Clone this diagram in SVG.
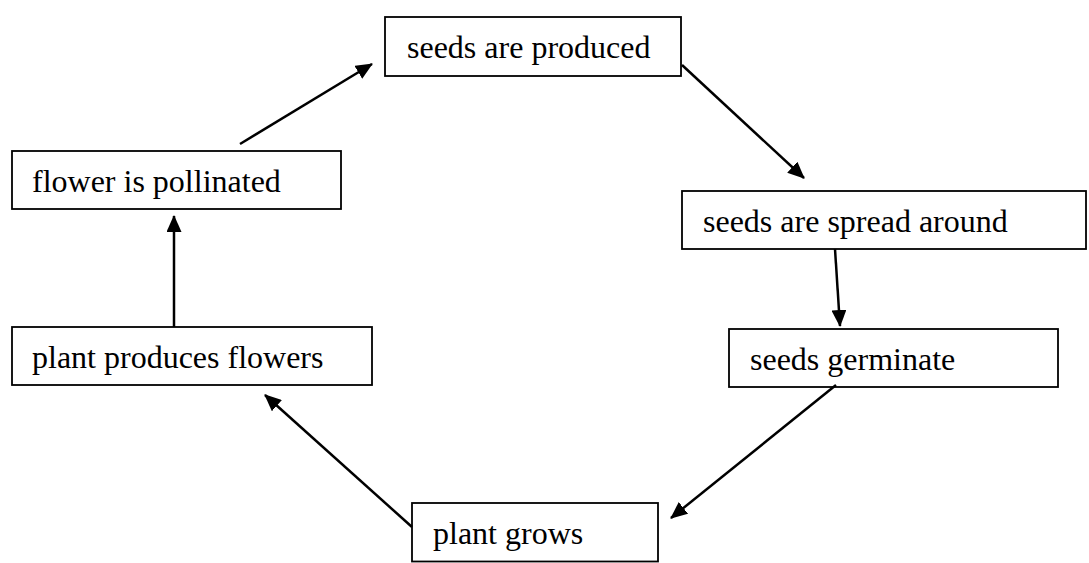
<svg xmlns="http://www.w3.org/2000/svg" width="1089" height="563" viewBox="0 0 1089 563">
<style>
.box{fill:#fff;stroke:#000;stroke-width:1.8}
.lbl{font-family:"Liberation Serif","Times New Roman",serif;font-size:32px;fill:#000}
.conn line{stroke:#000;stroke-width:2.5;marker-end:url(#arr)}
</style>
<defs>
<marker id="arr" viewBox="0 0 17 15" refX="16" refY="7.5" markerWidth="17" markerHeight="15" markerUnits="userSpaceOnUse" orient="auto">
<path d="M0,0 L17,7.5 L0,15 z" fill="#000"/>
</marker>
</defs>
<rect width="1089" height="563" fill="#fff"/>
<g id="n1"><rect class="box" x="385" y="17" width="296" height="59"/><text class="lbl" x="407" y="58">seeds are produced</text></g>
<g id="n2"><rect class="box" x="682" y="191" width="404" height="58"/><text class="lbl" x="703" y="232">seeds are spread around</text></g>
<g id="n3"><rect class="box" x="729" y="329" width="329" height="58"/><text class="lbl" x="750" y="370">seeds germinate</text></g>
<g id="n4"><rect class="box" x="412" y="503" width="246" height="58.5"/><text class="lbl" x="433" y="544">plant grows</text></g>
<g id="n5"><rect class="box" x="12" y="327" width="360" height="58"/><text class="lbl" x="32" y="368">plant produces flowers</text></g>
<g id="n6"><rect class="box" x="12" y="151" width="329" height="58"/><text class="lbl" x="32" y="192">flower is pollinated</text></g>
<g id="connectors" class="conn">
<line x1="240" y1="144" x2="372" y2="64"/>
<line x1="682" y1="65" x2="804" y2="178"/>
<line x1="835" y1="249" x2="840" y2="326"/>
<line x1="836" y1="385" x2="671" y2="518"/>
<line x1="412" y1="527" x2="265" y2="395"/>
<line x1="174" y1="327" x2="174" y2="216"/>
</g>
</svg>
